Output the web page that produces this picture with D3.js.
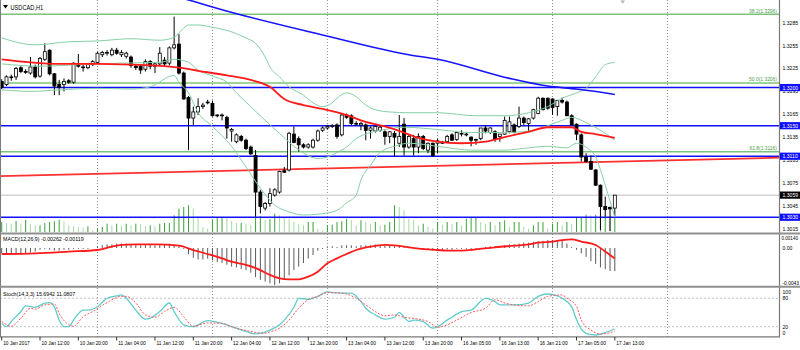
<!DOCTYPE html>
<html><head><meta charset="utf-8">
<script src="https://cdn.jsdelivr.net/npm/d3@7"></script>
<style>
body{margin:0;background:#fff}
svg{display:block}
text{font-family:"Liberation Sans",Arial,sans-serif}
</style></head>
<body><svg id="c" width="800" height="350"></svg>
<script>
// ---------------- DATA ----------------
const opens = [1.3208,1.3204,1.3213,1.3214,1.3226,1.3221,1.3219,1.3227,1.3215,1.3237,
1.3249,1.3218,1.3204,1.3204,1.3209,1.3207,1.3231,1.3227,1.3226,1.3230,
1.3233,1.3243,1.3246,1.3243,1.3249,1.3243,1.3241,1.3240,1.3228,1.3228,
1.3224,1.3234,1.3228,1.3231,1.3236,1.3232,1.3252,1.3257,1.3219,1.3187,
1.3160,1.3168,1.3175,1.3180,1.3179,1.3163,1.3164,1.3161,1.3143,1.3129,
1.3136,1.3131,1.3122,1.3111,1.3063,1.3042,1.3048,1.3059,1.3063,1.3091,
1.3092,1.3139,1.3133,1.3125,1.3122,1.3122,1.3131,1.3144,1.3147,1.3149,
1.3151,1.3138,1.3164,1.3163,1.3153,1.3151,1.3151,1.3144,1.3143,1.3144,
1.3142,1.3136,1.3140,1.3127,1.3152,1.3122,1.3133,1.3122,1.3136,1.3118,
1.3127,1.3127,1.3128,1.3129,1.3138,1.3132,1.3140,1.3139,1.3135,1.3132,
1.3133,1.3147,1.3141,1.3142,1.3136,1.3139,1.3142,1.3151,1.3149,1.3160,
1.3153,1.3160,1.3166,1.3186,1.3186,1.3185,1.3175,1.3183,1.3181,1.3163,
1.3152,1.3138,1.3109,1.3103,1.3092,1.3072,1.3044,1.3043,1.3042];
const highs = [1.3211,1.3216,1.3217,1.3227,1.3228,1.3224,1.3240,1.3230,1.3240,1.3258,
1.3250,1.3219,1.3210,1.3212,1.3211,1.3233,1.3244,1.3230,1.3232,1.3236,
1.3247,1.3248,1.3249,1.3252,1.3252,1.3249,1.3247,1.3242,1.3230,1.3230,
1.3237,1.3236,1.3233,1.3253,1.3240,1.3254,1.3293,1.3270,1.3221,1.3189,
1.3175,1.3186,1.3180,1.3184,1.3183,1.3165,1.3166,1.3163,1.3147,1.3140,
1.3138,1.3133,1.3124,1.3118,1.3066,1.3050,1.3068,1.3068,1.3091,1.3096,
1.3142,1.3149,1.3136,1.3127,1.3127,1.3133,1.3145,1.3149,1.3151,1.3152,
1.3153,1.3166,1.3166,1.3165,1.3156,1.3155,1.3153,1.3149,1.3150,1.3150,
1.3144,1.3143,1.3143,1.3164,1.3160,1.3138,1.3138,1.3140,1.3138,1.3128,
1.3128,1.3133,1.3130,1.3138,1.3140,1.3142,1.3144,1.3141,1.3136,1.3133,
1.3147,1.3151,1.3148,1.3144,1.3139,1.3162,1.3162,1.3153,1.3175,1.3162,
1.3160,1.3172,1.3188,1.3187,1.3187,1.3186,1.3184,1.3187,1.3183,1.3165,
1.3153,1.3140,1.3114,1.3111,1.3093,1.3073,1.3057,1.3044,1.3059];
const lows = [1.3198,1.3202,1.3209,1.3210,1.3219,1.3218,1.3217,1.3212,1.3213,1.3235,
1.3216,1.3190,1.3190,1.3195,1.3205,1.3205,1.3226,1.3221,1.3224,1.3228,
1.3231,1.3240,1.3242,1.3241,1.3243,1.3240,1.3238,1.3226,1.3223,1.3218,
1.3221,1.3224,1.3219,1.3229,1.3228,1.3229,1.3250,1.3217,1.3184,1.3118,
1.3151,1.3164,1.3172,1.3178,1.3162,1.3161,1.3157,1.3133,1.3129,1.3127,
1.3129,1.3118,1.3112,1.3031,1.3035,1.3039,1.3044,1.3057,1.3061,1.3088,
1.3090,1.3127,1.3116,1.3120,1.3120,1.3120,1.3129,1.3142,1.3145,1.3147,
1.3133,1.3136,1.3159,1.3151,1.3150,1.3144,1.3131,1.3133,1.3141,1.3142,
1.3125,1.3127,1.3109,1.3122,1.3111,1.3120,1.3111,1.3114,1.3118,1.3114,
1.3109,1.3114,1.3126,1.3127,1.3130,1.3130,1.3136,1.3136,1.3123,1.3125,
1.3131,1.3140,1.3139,1.3129,1.3129,1.3138,1.3140,1.3140,1.3147,1.3151,
1.3143,1.3158,1.3165,1.3170,1.3171,1.3164,1.3163,1.3179,1.3163,1.3151,
1.3131,1.3103,1.3102,1.3092,1.3071,1.3013,1.3031,1.3012,1.3031];
const closes = [1.3200,1.3214,1.3214,1.3225,1.3221,1.3220,1.3227,1.3214,1.3238,1.3247,
1.3218,1.3202,1.3200,1.3208,1.3207,1.3232,1.3228,1.3226,1.3230,1.3234,
1.3245,1.3246,1.3246,1.3249,1.3245,1.3246,1.3245,1.3229,1.3226,1.3223,
1.3234,1.3228,1.3231,1.3245,1.3231,1.3252,1.3256,1.3219,1.3185,1.3160,
1.3168,1.3175,1.3177,1.3181,1.3163,1.3164,1.3163,1.3147,1.3145,1.3138,
1.3131,1.3120,1.3113,1.3063,1.3044,1.3048,1.3061,1.3066,1.3090,1.3089,
1.3140,1.3128,1.3125,1.3122,1.3125,1.3131,1.3143,1.3147,1.3149,1.3150,
1.3136,1.3164,1.3161,1.3153,1.3153,1.3153,1.3144,1.3147,1.3149,1.3148,
1.3136,1.3142,1.3135,1.3136,1.3122,1.3136,1.3122,1.3136,1.3120,1.3127,
1.3111,1.3130,1.3128,1.3136,1.3131,1.3141,1.3140,1.3138,1.3131,1.3132,
1.3147,1.3143,1.3147,1.3133,1.3139,1.3157,1.3155,1.3141,1.3160,1.3154,
1.3159,1.3171,1.3186,1.3171,1.3173,1.3174,1.3183,1.3181,1.3163,1.3151,
1.3139,1.3109,1.3103,1.3093,1.3072,1.3044,1.3040,1.3041,1.3059];
const volumes = [1000,900,830,1100,830,1230,770,670,670,900,1000,1070,1230,1070,670,570,500,430,570,170,
300,500,830,670,830,670,830,670,830,770,570,670,570,830,900,900,1670,2330,2500,2670,2330,1570,500,330,
1200,1400,1450,1400,1100,900,900,830,700,1600,1600,1200,1300,
1830,1670,1500,1330,1000,830,670,1000,1000,330,170,670,730,1000,1070,1330,1170,670,1170,1000,830,1000,670,730,1000,2670,2500,2170,1330,
1200,670,830,500,330,1000,730,1000,830,1000,670,1330,1500,1500,1000,830,1000,670,1000,1170,500,1000,1000,500,330,670,1000,1000,330,830,1000,670,1000,830,1400,1500,1730,1670,1730,1670,1670,1500,1500];

const maRed = [[0,1.3237],[6,1.3233],[12,1.3231],[20,1.3231],[27,1.3230],[34,1.3228],[37,1.3226],[41,1.3222],[47,1.3216],[52,1.3210],[56,1.3201],[59,1.3185],[63,1.3177],[67,1.3172],[72,1.3164],[76,1.3155],[80,1.3149],[84,1.3141],[87,1.3134],[91,1.3129],[96,1.3127],[101,1.3129],[105,1.3135],[110,1.3142],[114,1.3148],[119,1.3148],[121,1.3142],[124,1.3139],[128,1.3134]];
const maBlue = [[36,1.3320],[40,1.3313],[46,1.3302],[67,1.3269],[85,1.3243],[91,1.3237],[106,1.3212],[114,1.3202],[120,1.3198],[128,1.3191]];
const bbUpper = [[0,1.3265],[7,1.3256],[14,1.3260],[20,1.3261],[27,1.3264],[33,1.3262],[36,1.3266],[38,1.3278],[39,1.3282],[41,1.3282],[44,1.3279],[48,1.3273],[51,1.3265],[53,1.3258],[55,1.3240],[56,1.3227],[58,1.3214],[60,1.3201],[63,1.3190],[65,1.3180],[67,1.3175],[69,1.3180],[70,1.3186],[72,1.3193],[74,1.3188],[76,1.3177],[78,1.3171],[81,1.3168],[85,1.3167],[91,1.3167],[99,1.3163],[105,1.3163],[110,1.3167],[114,1.3175],[117,1.3186],[120,1.3193],[122,1.3199],[124,1.3214],[126,1.3230],[128,1.3233]];
const bbMiddle = [[0,1.3231],[8,1.3228],[16,1.3230],[25,1.3232],[33,1.3233],[36,1.3237],[39,1.3233],[41,1.3223],[44,1.3215],[47,1.3207],[49,1.3193],[52,1.3175],[55,1.3157],[58,1.3140],[61,1.3123],[63,1.3114],[66,1.3107],[68,1.3109],[70,1.3115],[72,1.3122],[74,1.3133],[77,1.3141],[80,1.3145],[84,1.3148],[91,1.3145],[98,1.3141],[105,1.3141],[110,1.3143],[114,1.3150],[117,1.3157],[119,1.3161],[122,1.3154],[125,1.3144],[128,1.3131]];
const bbLower = [[0,1.3197],[6,1.3195],[12,1.3197],[20,1.3199],[27,1.3198],[31,1.3201],[36,1.3216],[37,1.3207],[39,1.3193],[41,1.3167],[44,1.3149],[48,1.3123],[51,1.3096],[54,1.3068],[57,1.3046],[60,1.3037],[63,1.3033],[66,1.3034],[70,1.3039],[72,1.3049],[74,1.3059],[75,1.3079],[77,1.3098],[79,1.3115],[82,1.3123],[85,1.3127],[91,1.3123],[98,1.3118],[105,1.3118],[110,1.3121],[114,1.3123],[118,1.3121],[120,1.3127],[122,1.3122],[124,1.3109],[126,1.3072],[128,1.3030]];
const trendRed = [[0,1.3084],[162,1.3108]];

const blueLevels = [1.3200,1.3150,1.3110,1.3030];
const fibLevels = [1.3296,1.3206,1.3116];
const fibNames = ["38.2","50.0","61.8"];
const bidPrice = 1.3059;
const priceTicks = [1.3285,1.3255,1.3225,1.3195,1.3165,1.3135,1.3105,1.3075,1.3045,1.3015];

const macdHist = [-0.0006,-0.0006,-0.0007,-0.0006,-0.0006,-0.0006,-0.0005,-0.0004,-0.0002,-0.0001,
-0.0002,-0.0003,-0.0003,-0.0002,-0.0002,-0.0001,-0.0001,-0.0001,-0.0001,0.0000,
0.0002,0.0003,0.0004,0.0004,0.0005,0.0005,0.0005,0.0004,0.0004,0.0003,
0.0004,0.0004,0.0003,0.0004,0.0004,0.0005,0.0004,0.0002,-0.0001,-0.0007,
-0.0011,-0.0013,-0.0013,-0.0012,-0.0014,-0.0016,-0.0017,-0.0019,-0.0021,-0.0022,
-0.0024,-0.0025,-0.0028,-0.0033,-0.0036,-0.0038,-0.0040,-0.0042,-0.0040,-0.0036,
-0.0031,-0.0025,-0.0021,-0.0017,-0.0012,-0.0008,-0.0003,-0.0001,0.0001,0.0002,
0.0001,0.0003,0.0003,0.0003,0.0002,0.0003,0.0003,0.0003,0.0004,0.0003,
0.0003,0.0003,0.0002,0.0002,0.0001,0.0000,-0.0001,-0.0001,-0.0002,-0.0002,
-0.0003,-0.0003,-0.0002,-0.0002,-0.0002,-0.0001,-0.0001,-0.0001,-0.0001,-0.0001,
0.0000,0.0001,0.0002,0.0002,0.0002,0.0003,0.0004,0.0004,0.0005,0.0006,
0.0006,0.0007,0.0008,0.0008,0.0009,0.0009,0.0009,0.0008,0.0005,0.0001,
-0.0002,-0.0006,-0.0010,-0.0015,-0.0018,-0.0022,-0.0024,-0.0026,-0.00262];
const macdSignal = [[0,-0.00068],[7,-0.0006],[14,-0.00041],[20,-0.00023],[23,0.00015],[25,0.00034],[28,0.00041],[32,0.00041],[37,0.00026],[40,-0.00023],[43,-0.00068],[46,-0.00117],[48,-0.00155],[51,-0.00192],[54,-0.0025],[56,-0.00305],[58,-0.00343],[60,-0.00354],[62,-0.00354],[64,-0.00324],[66,-0.00268],[68,-0.00173],[70,-0.00117],[72,-0.00068],[74,-0.00023],[77,0.00015],[80,0.00034],[82,0.0003],[84,0.00015],[87,-0.00008],[91,-0.00023],[93,-0.0003],[96,-0.0003],[99,-0.00015],[103,0.00008],[107,0.00026],[110,0.0004],[112,0.0006],[115,0.00072],[117,0.0009],[119,0.00098],[121,0.00072],[124,0.00034],[126,-0.00041],[128,-0.00119]];
const macdTickVals = [0.0014,0,-0.0043];
const macdTickText = ["0.00140","0.00","-0.0043"];

const stochMain = [[0,27],[1,20],[2,31],[4,52],[5,64],[7,61],[9,70],[10,71],[11,62],[12,34],[13,20],[14,20],[15,34],[17,55],[18,55],[20,62],[22,80],[24,85],[25,87],[26,80],[28,55],[30,36],[31,38],[33,52],[35,70],[36,52],[38,24],[40,20],[43,33],[46,27],[48,20],[51,10],[53,5],[54,6],[56,13],[58,24],[59,34],[61,61],[62,80],[64,78],[66,84],[68,94],[69,92],[71,91],[73,91],[75,73],[76,59],[78,45],[80,36],[82,40],[83,50],[84,40],[85,31],[86,34],[88,31],[90,17],[91,20],[93,34],[94,40],[96,52],[98,55],[101,80],[103,73],[104,66],[107,66],[110,70],[112,84],[114,89],[116,85],[117,80],[119,62],[120,35],[121,15],[122,6],[124,2.5],[126,7.5],[128,15.69]];
const stochSignal = [[0,31],[2,21],[4,38],[6,59],[7,57],[9,66],[11,68],[12,48],[14,24],[15,21],[17,41],[19,52],[22,71],[25,84],[26,84],[28,70],[30,45],[32,40],[34,52],[36,61],[38,41],[40,21],[43,28],[46,27],[48,20],[52,10],[55,6],[56,9],[58,17],[60,34],[62,59],[64,77],[66,84],[68,92],[71,91],[74,80],[76,66],[78,52],[80,43],[82,45],[84,40],[87,36],[89,31],[91,19],[93,24],[95,34],[98,50],[101,59],[103,77],[105,70],[107,66],[110,64],[112,73],[114,84],[117,87],[118,80],[120,63],[121,34],[123,13],[125,4.6],[127,7.5],[128,11.08]];
const stochTicks = [100,80,20,0];

const timeLabels = ["10 Jan 2017","10 Jan 12:00","10 Jan 20:00","11 Jan 04:00","11 Jan 12:00","11 Jan 20:00","12 Jan 04:00","12 Jan 12:00","12 Jan 20:00","13 Jan 04:00","13 Jan 12:00","13 Jan 20:00","16 Jan 05:00","16 Jan 13:00","16 Jan 21:00","17 Jan 05:00","17 Jan 13:00"];
const timeLabelBars = d3.range(0, 129, 8);
const gridBars = [20,44,68,91,115,139];

// ---------------- SCALES ----------------
const W = 800, H = 350, chartR = 779;
const x = d3.scaleLinear().domain([0,128]).range([1.7, 1.7 + 128*4.79]);
const yMain = d3.scaleLinear().domain([1.3015,1.3285]).range([228.7,22.7]);
const yVol = d3.scaleLinear().domain([0,3000]).range([232,202]);
const yMacd = d3.scaleLinear().domain([-0.0043,0.0014]).range([286,235.6]);
const yStoch = d3.scaleLinear().domain([0,100]).range([336.2,288.8]);

const svg = d3.select("#c");
svg.append("rect").attr("width",W).attr("height",H).attr("fill","#fff");

const defs = svg.append("defs");
defs.append("clipPath").attr("id","cm").append("rect").attr("x",0).attr("y",0).attr("width",chartR).attr("height",232);
defs.append("clipPath").attr("id","cd").append("rect").attr("x",0).attr("y",235).attr("width",chartR).attr("height",51);
defs.append("clipPath").attr("id","cs").append("rect").attr("x",0).attr("y",288).attr("width",chartR).attr("height",48);

function squeeze(sel, f, maxW){
  sel.each(function(){
    const w = this.getComputedTextLength();
    if (w > 0){
      let t = w*f; if (maxW && t > maxW) t = maxW;
      this.setAttribute("textLength",t.toFixed(2)); this.setAttribute("lengthAdjust","spacingAndGlyphs");
    }
  });
}
function bars(){ return d3.range(opens.length); }

// ---------------- GRID ----------------
svg.append("g").selectAll("line").data(gridBars).join("line")
  .attr("x1",d=>x(d)).attr("x2",d=>x(d)).attr("y1",0).attr("y2",337)
  .attr("stroke","#8c8c8c").attr("stroke-width",1).attr("stroke-dasharray","1,2");

// ---------------- MAIN ----------------
const gm = svg.append("g").attr("clip-path","url(#cm)");
gm.append("g").selectAll("line").data(volumes).join("line")
  .attr("x1",(d,i)=>x(i)).attr("x2",(d,i)=>x(i))
  .attr("y1",yVol(0)).attr("y2",d=>yVol(d))
  .attr("stroke",(d,i)=> (i===0 || d>=volumes[i-1]) ? "#3aa03a" : "#a8d8a8").attr("stroke-width",1);

gm.append("g").selectAll("line").data(fibLevels).join("line")
  .attr("x1",0).attr("x2",chartR).attr("y1",d=>yMain(d)).attr("y2",d=>yMain(d))
  .attr("stroke","#7cc47c").attr("stroke-width",1.5);
gm.append("line").attr("x1",0).attr("x2",chartR).attr("y1",yMain(bidPrice)).attr("y2",yMain(bidPrice))
  .attr("stroke","#d4d4d4").attr("stroke-width",1.5);
gm.append("g").selectAll("line").data(blueLevels).join("line")
  .attr("x1",0).attr("x2",chartR).attr("y1",d=>yMain(d)).attr("y2",d=>yMain(d))
  .attr("stroke","#1010ff").attr("stroke-width",1.6);
{
  const [a,b] = trendRed;
  const slope = (b[1]-a[1])/(b[0]-a[0]);
  const b0 = x.invert(0), b1 = x.invert(chartR+1);
  gm.append("line").attr("x1",x(b0)).attr("x2",x(b1))
    .attr("y1",yMain(a[1]+slope*(b0-a[0]))).attr("y2",yMain(a[1]+slope*(b1-a[0])))
    .attr("stroke","#ff3030").attr("stroke-width",1.8);
}

const gc = gm.append("g");
gc.selectAll("line").data(bars()).join("line")
  .attr("x1",i=>x(i)).attr("x2",i=>x(i)).attr("y1",i=>yMain(highs[i])).attr("y2",i=>yMain(lows[i]))
  .attr("stroke","#000").attr("stroke-width",1);
gc.selectAll("rect").data(bars()).join("rect")
  .attr("x",i=>x(i)-1.5).attr("width",3)
  .attr("y",i=>yMain(Math.max(opens[i],closes[i])))
  .attr("height",i=>Math.max(0.8, Math.abs(yMain(opens[i])-yMain(closes[i]))))
  .attr("fill",i=> closes[i] < opens[i] ? "#000" : "#fff")
  .attr("stroke","#000").attr("stroke-width",0.8);

const lineP = d3.line().x(d=>x(d[0])).y(d=>yMain(d[1])).curve(d3.curveMonotoneX);
[bbUpper,bbMiddle,bbLower].forEach(s=>{
  gm.append("path").attr("d",lineP(s)).attr("fill","none").attr("stroke","#86d0a4").attr("stroke-width",1);
});
gm.append("path").attr("d",lineP(maRed)).attr("fill","none").attr("stroke","#ff1a1a").attr("stroke-width",1.8);
gm.append("path").attr("d",lineP(maBlue)).attr("fill","none").attr("stroke","#1414ff").attr("stroke-width",1.6);

svg.append("g").selectAll("text").data(fibLevels).join("text")
  .attr("x",777).attr("y",d=>yMain(d)-1.5).attr("text-anchor","end")
  .attr("font-size",6).attr("fill","#4e9e4e")
  .text((d,i)=>fibNames[i]+"("+d.toFixed(4)+")").call(squeeze,0.82);

svg.append("path").attr("d","M3,5 L8,5 L5.5,8.5 Z").attr("fill","#000");
svg.append("text").attr("x",10.5).attr("y",9.6).attr("font-size",6.5).attr("fill","#000")
  .text("USDCAD,H1").call(squeeze,0.87);
svg.append("path").attr("d","M620.5,0.5 L625,0.5 L622.7,3.8 Z").attr("fill","#b0b0b0");

// ---------------- MACD ----------------
const gd = svg.append("g").attr("clip-path","url(#cd)");
gd.append("g").selectAll("line").data(macdHist).join("line")
  .attr("x1",(d,i)=>x(i)).attr("x2",(d,i)=>x(i)).attr("y1",yMacd(0)).attr("y2",d=>yMacd(d))
  .attr("stroke","#5a5a5a").attr("stroke-width",1);
const lineD = d3.line().x(d=>x(d[0])).y(d=>yMacd(d[1])).curve(d3.curveMonotoneX);
gd.append("path").attr("d",lineD(macdSignal)).attr("fill","none").attr("stroke","#ff1a1a").attr("stroke-width",1.8);
svg.append("text").attr("x",3).attr("y",241).attr("font-size",6.2).attr("fill","#000")
  .text("MACD(12,26,9) -0.00262 -0.00119").call(squeeze,0.85);

// ---------------- STOCH ----------------
const gs = svg.append("g").attr("clip-path","url(#cs)");
gs.append("g").selectAll("line").data([80,20]).join("line")
  .attr("x1",0).attr("x2",chartR).attr("y1",d=>yStoch(d)).attr("y2",d=>yStoch(d))
  .attr("stroke","#c0c0c0").attr("stroke-width",1).attr("stroke-dasharray","2,2");
const lineS = d3.line().x(d=>x(d[0])).y(d=>yStoch(d[1])).curve(d3.curveMonotoneX);
gs.append("path").attr("d",lineS(stochMain)).attr("fill","none").attr("stroke","#62cccc").attr("stroke-width",1.3);
gs.append("path").attr("d",lineS(stochSignal)).attr("fill","none").attr("stroke","#ff5a5a").attr("stroke-width",1).attr("stroke-dasharray","2,1.5");
svg.append("text").attr("x",3).attr("y",295.6).attr("font-size",6.2).attr("fill","#000")
  .text("Stoch(14,3,3) 15.6942 11.0807").call(squeeze,0.85);

// ---------------- FRAME ----------------
const fr = svg.append("g").attr("stroke","#7a7a7a");
fr.append("line").attr("x1",0.5).attr("x2",0.5).attr("y1",0).attr("y2",337).attr("stroke-width",1);
fr.append("line").attr("x1",chartR+0.5).attr("x2",chartR+0.5).attr("y1",0).attr("y2",337).attr("stroke-width",1.2);
fr.append("line").attr("x1",0).attr("x2",W).attr("y1",233.6).attr("y2",233.6).attr("stroke-width",2).attr("stroke","#909090");
fr.append("line").attr("x1",0).attr("x2",W).attr("y1",286.8).attr("y2",286.8).attr("stroke-width",2).attr("stroke","#909090");
fr.append("line").attr("x1",0).attr("x2",chartR+1).attr("y1",336.8).attr("y2",336.8).attr("stroke-width",1.2);

// ---------------- AXES ----------------
const AX = 782.5, AXW = 16.5;
svg.append("g").selectAll("text").data(priceTicks).join("text")
  .attr("x",AX).attr("y",d=>yMain(d)+2).attr("font-size",5.5).attr("fill","#000")
  .text(d=>d.toFixed(4)).call(squeeze,0.93,AXW);
const boxes = blueLevels.map(v=>({v, fill:"#1010ff"})).concat([{v:bidPrice, fill:"#000"}]);
const gb = svg.append("g").selectAll("g").data(boxes).join("g");
gb.append("rect").attr("x",780).attr("width",20).attr("y",d=>yMain(d.v)-3.6).attr("height",7.2).attr("fill",d=>d.fill);
gb.append("text").attr("x",AX).attr("y",d=>yMain(d.v)+2).attr("font-size",5.5).attr("fill","#fff")
  .text(d=>d.v.toFixed(4)).call(squeeze,0.93,AXW);
svg.append("g").selectAll("text").data(macdTickVals).join("text")
  .attr("x",(d,i)=> i===0 ? 781.5 : AX).attr("y",(d,i)=> i===0 ? 240.3 : (i===2 ? 284.6 : yMacd(d)+2))
  .attr("font-size",(d,i)=> i===0 ? 4.9 : 5.5).attr("fill","#000").text((d,i)=>macdTickText[i]).call(squeeze,0.93,AXW);
svg.append("g").selectAll("text").data(stochTicks).join("text")
  .attr("x",AX).attr("y",d=> d===100 ? 293.6 : (d===0 ? 335.2 : yStoch(d)+2))
  .attr("font-size",5.5).attr("fill","#000").text(d=>d).call(squeeze,0.93,AXW);
const gt = svg.append("g");
gt.selectAll("line").data(timeLabelBars).join("line")
  .attr("x1",d=>x(d)).attr("x2",d=>x(d)).attr("y1",337).attr("y2",340.5).attr("stroke","#000").attr("stroke-width",0.8);
gt.selectAll("text").data(timeLabelBars).join("text")
  .attr("x",d=>x(d)+1.5).attr("y",344.8).attr("font-size",6.2).attr("fill","#000")
  .text((d,i)=>timeLabels[i]).call(squeeze,0.78);
</script></body></html>
